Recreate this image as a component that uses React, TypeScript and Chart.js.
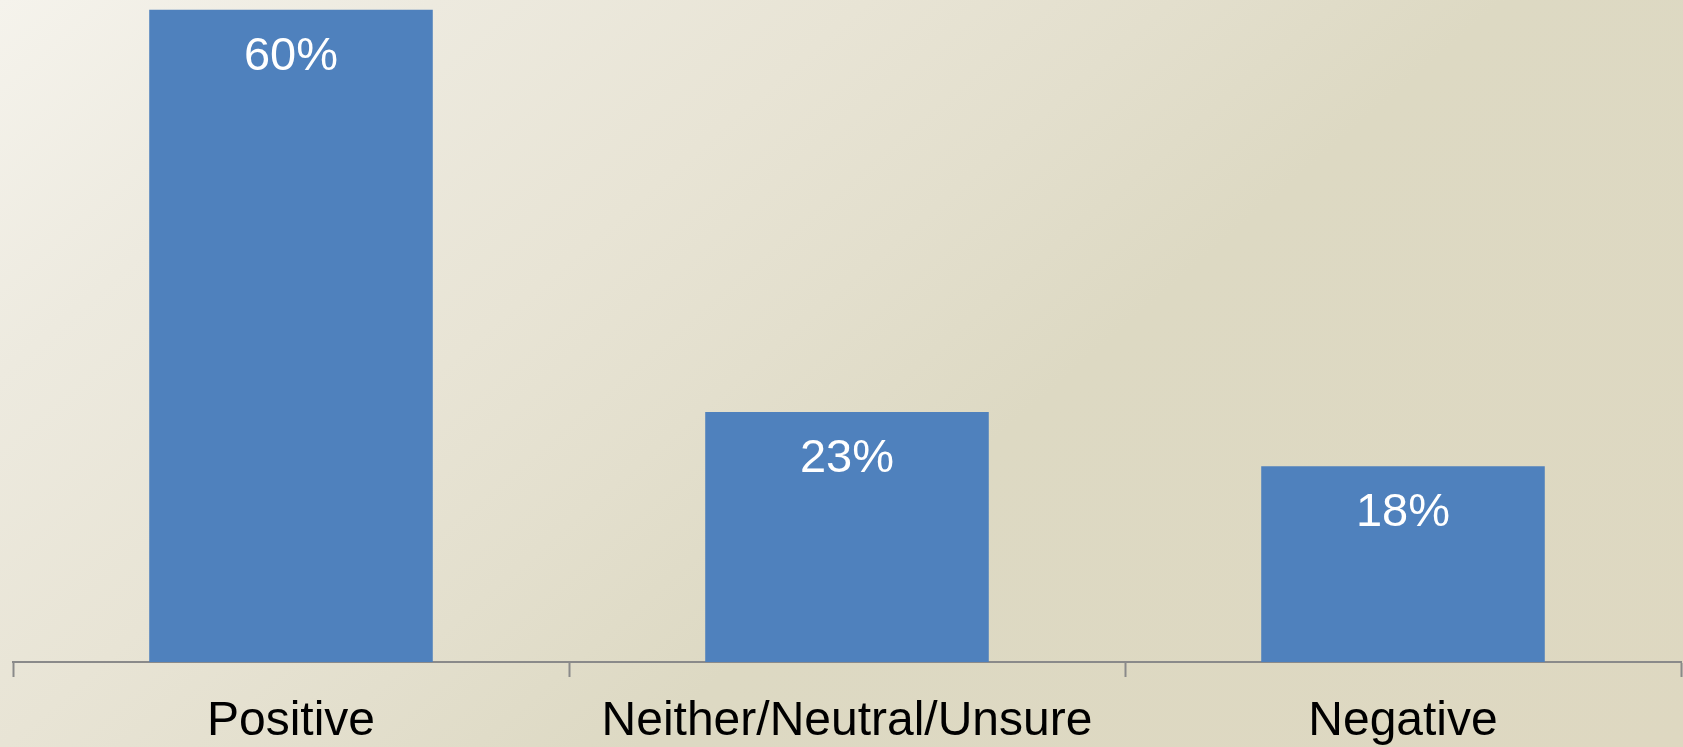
import React, { useEffect, useRef } from "react";
import { Chart, registerables } from "chart.js";

Chart.register(...registerables);

const categories = ["Positive", "Neither/Neutral/Unsure", "Negative"];
const values = [60, 23, 18];
const valueLabels = ["60%", "23%", "18%"];

const FONT = "'Liberation Sans', Arial, sans-serif";

const backgroundPlugin = {
  id: "bgGradient",
  beforeDraw(chart: any) {
    const { ctx, width, height } = chart;
    ctx.save();
    const g = ctx.createLinearGradient(0, 0, 1089, 1262);
    g.addColorStop(0, "#F5F3EC");
    g.addColorStop(0.17, "#EDEADF");
    g.addColorStop(0.34, "#E8E4D5");
    g.addColorStop(0.46, "#E3DFCD");
    g.addColorStop(0.59, "#DDD9C3");
    g.addColorStop(1, "#DED8C1");
    ctx.fillStyle = g;
    ctx.fillRect(0, 0, width, height);
    ctx.restore();
  },
};

const valueLabelPlugin = {
  id: "valueLabels",
  afterDatasetsDraw(chart: any) {
    const { ctx } = chart;
    const meta = chart.getDatasetMeta(0);
    ctx.save();
    ctx.fillStyle = "#FFFFFF";
    ctx.font = `47px ${FONT}`;
    ctx.textAlign = "center";
    ctx.textBaseline = "middle";
    meta.data.forEach((bar: any, i: number) => {
      ctx.fillText(valueLabels[i], bar.x, bar.y + 47);
    });
    ctx.restore();
  },
};

export default function App() {
  const canvasRef = useRef<HTMLCanvasElement | null>(null);

  useEffect(() => {
    if (!canvasRef.current) return;
    const chart = new Chart(canvasRef.current, {
      type: "bar",
      data: {
        labels: categories,
        datasets: [
          {
            data: values,
            backgroundColor: "#4F81BD",
            borderWidth: 0,
            barPercentage: 1,
            categoryPercentage: 0.51,
          },
        ],
      },
      options: {
        animation: false,
        responsive: true,
        maintainAspectRatio: false,
        layout: { padding: { left: 13, right: 2, top: 0, bottom: -20 } },
        plugins: {
          legend: { display: false },
          tooltip: { enabled: false },
          title: { display: false },
        },
        scales: {
          y: {
            display: false,
            min: 0,
            max: 60.9,
          },
          x: {
            border: { display: true, color: "#8A8A8A", width: 2 },
            grid: {
              display: true,
              offset: true,
              drawOnChartArea: false,
              drawTicks: true,
              tickLength: 15,
              tickWidth: 2,
              tickColor: "#8A8A8A",
              color: "#8A8A8A",
            },
            ticks: {
              color: "#000000",
              font: { family: FONT, size: 48 },
              padding: 16.2,
              maxRotation: 0,
              autoSkip: false,
            },
          },
        },
      },
      plugins: [backgroundPlugin, valueLabelPlugin],
    });
    return () => chart.destroy();
  }, []);

  return (
    <div
      style={{
        position: "fixed",
        left: 0,
        top: 0,
        width: 1683,
        height: 747,
      }}
    >
      <canvas ref={canvasRef} />
    </div>
  );
}
